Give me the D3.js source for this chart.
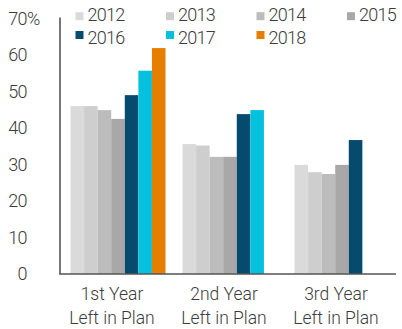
<!DOCTYPE html>
<html>
<head>
<meta charset="utf-8">
<script src="https://cdn.jsdelivr.net/npm/d3@7"></script>
<style>
  html, body { margin: 0; padding: 0; background: #fff; }
  svg { display: block; }
  text { font-family: Roboto, "Liberation Sans", Arial, sans-serif; font-weight: 300; fill: #3c3c3c; }
</style>
</head>
<body>
<svg id="chart" width="402" height="329"></svg>
<script>
// Share of participants, by years left in plan (percent)
const categories = [["1st Year", "Left in Plan"], ["2nd Year", "Left in Plan"], ["3rd Year", "Left in Plan"]];
const years = ["2012", "2013", "2014", "2015", "2016", "2017", "2018"];
const colors = ["#dadada", "#cecece", "#bcbcbc", "#a8a8a8", "#064a6e", "#05c1de", "#e67e00"];

const values2012 = [46.0, 35.6, 29.9];
const values2013 = [46.0, 35.2, 27.9];
const values2014 = [44.9, 32.1, 27.4];
const values2015 = [42.5, 32.1, 29.9];
const values2016 = [49.0, 43.8, 36.7];
const values2017 = [55.7, 44.9, null];
const values2018 = [61.9, null, null];

const yTicks = [0, 10, 20, 30, 40, 50, 60, 70];

const series = [values2012, values2013, values2014, values2015, values2016, values2017, values2018];

const svg = d3.select("#chart");

const x0 = d3.scaleBand().domain(d3.range(categories.length)).range([56, 392]);
const x1 = d3.scaleBand().domain(years).range([14.5, 109.5]);
const y = d3.scaleLinear().domain([0, 70]).range([274, 18.5]);

// bars
const rows = [];
series.forEach((vals, si) => {
  vals.forEach((v, ci) => {
    if (v != null) rows.push({ year: years[si], color: colors[si], cat: ci, value: v });
  });
});

svg.append("g").selectAll("rect")
  .data(rows)
  .join("rect")
  .attr("x", d => x0(d.cat) + x1(d.year))
  .attr("y", d => y(d.value))
  .attr("width", x1.bandwidth())
  .attr("height", d => y(0) - y(d.value))
  .attr("fill", d => d.color);

// axes lines
svg.append("line")
  .attr("x1", 60).attr("x2", 60)
  .attr("y1", y(70) - 1).attr("y2", y(0))
  .attr("stroke", "#555").attr("stroke-width", 1.6);
svg.append("line")
  .attr("x1", 59.2).attr("x2", 396)
  .attr("y1", y(0)).attr("y2", y(0))
  .attr("stroke", "#555").attr("stroke-width", 1.6);

// y tick labels
const yLab = svg.append("g").style("font-size", "18px").style("letter-spacing", "-0.6px");
yLab.selectAll("text.num")
  .data(yTicks)
  .join("text")
  .attr("class", "num")
  .attr("x", 27)
  .attr("y", d => y(d))
  .attr("dy", "0.36em")
  .attr("text-anchor", "end")
  .text(d => d);
yLab.append("text")
  .attr("x", 27)
  .attr("y", y(70))
  .attr("dy", "0.36em")
  .text("%");

// category labels
const xLab = svg.append("g").style("font-size", "17.5px");
categories.forEach((lines, i) => {
  lines.forEach((ln, li) => {
    xLab.append("text")
      .attr("x", x0(i) + x0.bandwidth() / 2)
      .attr("y", 300 + li * 24)
      .attr("text-anchor", "middle")
      .text(ln);
  });
});

// legend
const legendCols = [75.5, 166, 256.5, 347];
const legendRows = [{ base: 20.5, swatchTop: 12.2 }, { base: 43.5, swatchTop: 31 }];
const legend = svg.append("g").style("font-size", "18px").style("letter-spacing", "-0.7px");
years.forEach((yr, i) => {
  const col = i % 4, row = Math.floor(i / 4);
  const lx = legendCols[col], r = legendRows[row];
  legend.append("rect")
    .attr("x", lx).attr("y", r.swatchTop)
    .attr("width", 8).attr("height", 8)
    .attr("fill", colors[i]);
  legend.append("text")
    .attr("x", lx + 12)
    .attr("y", r.base)
    .text(yr);
});
</script>
</body>
</html>
